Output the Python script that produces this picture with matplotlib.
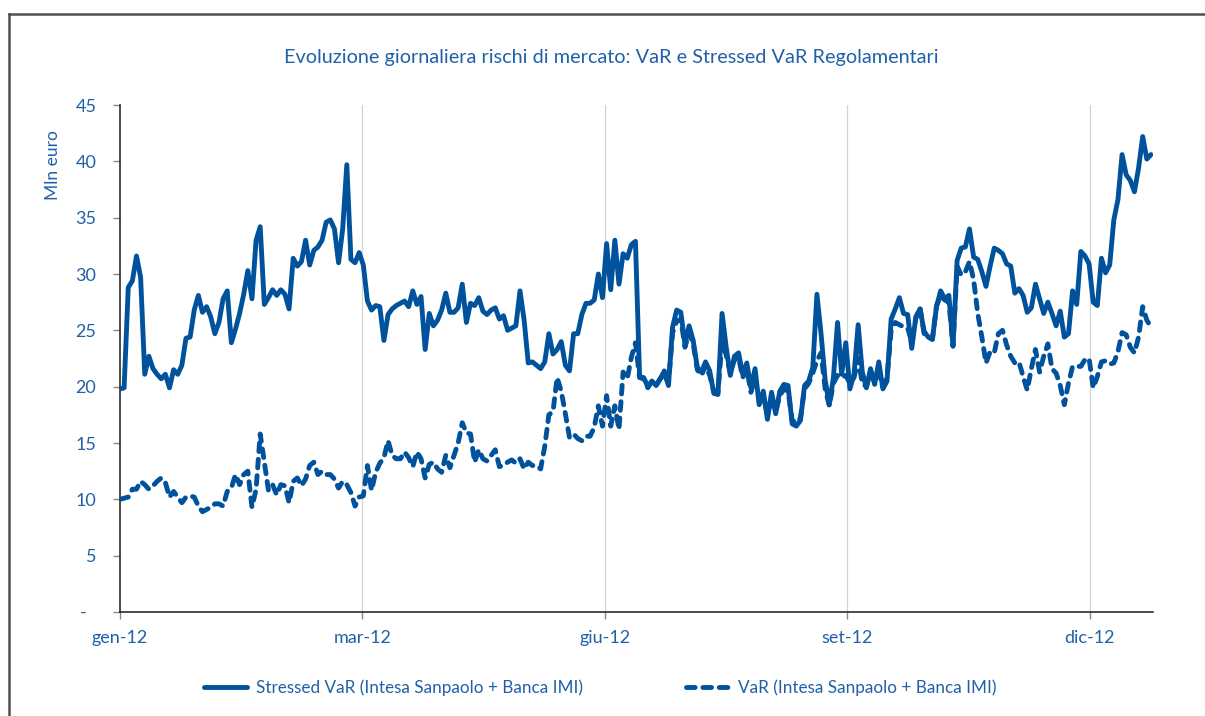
import matplotlib
matplotlib.use("Agg")
import matplotlib.pyplot as plt
import numpy as np

# ---------------- data ----------------
stressed_var = [
    19.8, 19.9, 28.8, 29.4, 31.6, 29.7, 21.1, 22.7, 21.6, 21.1,
    20.7, 21.1, 19.9, 21.5, 21.1, 21.9, 24.3, 24.4, 26.8, 28.1,
    26.6, 27.1, 26.2, 24.7, 25.7, 27.8, 28.5, 23.9, 25.1, 26.5,
    28.2, 30.3, 27.8, 33.0, 34.2, 27.3, 27.9, 28.6, 28.1, 28.6,
    28.2, 26.9, 31.4, 30.7, 31.1, 33.0, 30.8, 32.1, 32.4, 33.0,
    34.6, 34.8, 34.0, 31.0, 34.0, 39.7, 31.3, 31.0, 31.9, 30.8,
    27.6, 26.8, 27.2, 27.1, 24.1, 26.4, 26.9, 27.2,
    27.4, 27.6, 27.1, 28.5, 27.3, 28.0, 23.3, 26.5, 25.4, 25.9,
    26.8, 28.3, 26.6, 26.6, 27.0, 29.1, 25.7, 27.4, 27.2, 27.9,
    26.7, 26.4, 26.8, 27.0, 26.0, 26.3, 25.0, 25.2, 25.4, 28.5,
    25.9, 22.1, 22.2, 21.9, 21.6, 22.2, 24.7, 22.9, 23.3, 24.0,
    21.9, 21.4, 24.7, 24.7, 26.4, 27.4, 27.4, 27.7, 30.0, 27.9,
    32.7, 28.6, 33.0, 29.1, 31.8, 31.4, 32.6, 32.9, 20.9, 20.8,
    20.0,
    20.5, 20.1, 20.7, 21.4, 20.1, 25.3, 26.8, 26.6, 23.8, 25.4,
    24.1, 21.7, 21.3, 22.2, 21.4, 19.4, 19.3, 26.5, 23.5, 21.0,
    22.7, 23.0, 21.1, 22.1, 19.9, 21.6, 18.4, 19.6, 17.1, 19.5,
    17.6, 19.6, 20.2, 20.1, 16.7, 16.5, 17.0, 20.1, 20.5, 21.7,
    28.2, 24.7, 20.6, 18.4, 20.8, 25.7, 21.1, 23.9, 19.8, 21.1,
    25.5, 21.3, 19.9, 21.6, 20.2, 22.2, 19.8, 20.5, 26.0, 26.9,
    27.9,
    26.5, 26.4, 23.4, 26.2, 26.9, 24.9, 24.4, 24.2, 27.1, 28.5,
    27.8, 28.1, 23.6, 31.2, 32.3, 32.4, 34.0, 31.5, 31.3, 30.2,
    28.9, 30.7, 32.3, 32.1, 31.8, 30.9, 30.7, 28.3, 28.7, 28.1,
    26.6, 27.0, 29.1, 27.8, 26.5, 27.5, 26.5, 25.4, 26.7, 24.4,
    24.7, 28.5, 27.3, 32.0, 31.6, 30.9, 27.5, 27.2, 31.4, 30.1,
    30.8, 34.8, 36.6, 40.6, 38.8, 38.3, 37.3, 39.4, 42.2, 40.2,
    40.6,
]

var = [
    10.0, 10.1, 10.2, 10.9, 10.9, 11.6, 11.3, 10.9, 11.2, 11.6,
    11.9, 11.5, 10.2, 10.7, 10.2, 9.7, 10.2, 10.3, 10.2, 9.4,
    8.9, 9.1, 9.3, 9.6, 9.6, 9.4, 10.7, 11.0, 12.2, 11.3,
    12.2, 12.5, 9.3, 10.9, 15.8, 13.3, 10.8, 11.3, 10.4, 11.3,
    11.2, 9.7, 11.6, 11.9, 11.2, 11.8, 13.0, 13.3, 12.2, 12.5,
    12.2, 12.2, 11.8, 11.0, 11.6, 11.3, 10.6, 9.4, 10.2, 10.3,
    13.0, 10.8, 12.4, 13.2, 13.7, 15.2, 13.9, 13.6,
    13.6, 14.2, 13.7, 12.9, 14.2, 13.6, 11.9, 13.1, 13.3, 12.7,
    12.4, 13.9, 12.8, 13.9, 15.0, 16.8, 15.9, 15.8, 13.3, 14.4,
    13.6, 13.4, 13.9, 14.4, 12.9, 13.0, 13.3, 13.5, 13.2, 13.6,
    12.7, 13.3, 13.0, 13.0, 12.7, 14.7, 17.5, 17.8, 20.8, 19.6,
    17.6, 15.5, 15.8, 15.4, 15.2, 15.6, 15.6, 16.4, 18.3, 16.5,
    19.2, 16.5, 18.3, 16.2, 21.3, 20.7, 22.6, 23.9, 20.8, 20.7,
    19.9,
    20.5, 20.1, 20.7, 21.0, 20.3, 24.8, 25.8, 26.0, 23.5, 24.8,
    23.8, 21.5, 21.0, 21.9, 21.0, 19.6, 19.5, 24.0, 22.8, 21.2,
    22.4, 22.6, 20.8, 21.6, 19.5, 20.8, 18.8, 19.2, 17.5, 19.0,
    17.8, 19.2, 19.8, 19.6, 17.0, 16.8, 17.2, 19.8, 20.3, 21.2,
    22.3, 23.0, 19.8, 18.3, 20.3, 21.0, 20.8, 21.0, 20.3, 20.8,
    22.5, 20.3, 20.0, 21.3, 20.5, 21.2, 20.0, 20.8, 25.0, 25.7,
    25.5,
    25.3, 25.2, 24.0, 26.1, 27.0, 24.7, 24.4, 24.2, 27.2, 28.0,
    27.7, 27.5, 23.6, 30.7, 29.9, 30.2, 31.1, 29.5, 26.5, 24.4,
    22.1, 23.1, 23.0, 24.7, 25.0, 23.7, 22.7, 22.1, 22.2, 20.9,
    19.7, 21.6, 23.3, 21.3, 22.7, 23.8, 21.6, 21.2, 20.1, 18.4,
    20.3, 21.8, 21.8, 21.8, 22.4, 22.5, 19.9, 20.9, 22.2, 22.3,
    22.0, 22.1, 23.1, 24.8, 24.6, 23.5, 23.0, 24.4, 27.1, 25.9,
    25.3,
]

month_labels = ["gen-12", "mar-12", "giu-12", "set-12", "dic-12"]
y_ticks = [0, 5, 10, 15, 20, 25, 30, 35, 40, 45]
y_tick_labels = ["-  ", "5", "10", "15", "20", "25", "30", "35", "40", "45"]
series_labels = ["Stressed VaR (Intesa Sanpaolo + Banca IMI)",
                 "VaR (Intesa Sanpaolo + Banca IMI)"]
title = "Evoluzione giornaliera rischi di mercato: VaR e Stressed VaR Regolamentari"
y_label = "Mln euro"

# ---------------- style ----------------
plt.rcParams['font.family'] = ['Lato', 'DejaVu Sans']
plt.rcParams['lines.scale_dashes'] = False

LINE = "#00529C"
TEXT = "#2160A8"
W, H = 1205, 716

fig = plt.figure(figsize=(W / 100, H / 100), dpi=100)
fig.patch.set_facecolor("white")

# outer frame (top and left edges visible)
fig.add_artist(plt.Line2D([9 / W, 1.0], [1 - 14 / H, 1 - 14 / H],
                          transform=fig.transFigure, color="#505050", lw=1.8))
fig.add_artist(plt.Line2D([9 / W, 9 / W], [0, 1 - 14 / H],
                          transform=fig.transFigure, color="#505050", lw=1.8))

ax = fig.add_axes([120 / W, 1 - 612 / H, (1153 - 120) / W, (612 - 105) / H])

x = np.arange(len(stressed_var))
tick_step = 58.8
xticks = np.arange(len(month_labels)) * tick_step

ax.plot(x, stressed_var, color=LINE, lw=3.5, solid_capstyle="round",
        solid_joinstyle="round", label=series_labels[0], zorder=3)
ax.plot(x, var, color=LINE, lw=3.5, linestyle=(0, (6.2, 5.6)),
        dash_capstyle="round", dash_joinstyle="round",
        label=series_labels[1], zorder=4)

ax.set_xlim(0, 250.5)
ax.set_ylim(0, 45)
ax.set_yticks(y_ticks)
ax.set_yticklabels(y_tick_labels)
ax.set_xticks(xticks)
ax.set_xticklabels(month_labels)

for xt in xticks[1:]:
    ax.axvline(xt, color="#d4d4d4", lw=0.9, zorder=1)

for s in ["top", "right"]:
    ax.spines[s].set_visible(False)
for s in ["left", "bottom"]:
    ax.spines[s].set_color("#1a1a1a")
    ax.spines[s].set_linewidth(1.1)

ax.tick_params(axis="y", direction="out", length=5, width=1, color="#8a8a8a",
               labelcolor=TEXT, labelsize=13, pad=12)
ax.tick_params(axis="x", direction="out", length=5, width=1, color="#8a8a8a",
               labelcolor=TEXT, labelsize=13, pad=8)

ax.set_ylabel(y_label, color=TEXT, fontsize=12.5)
ax.yaxis.set_label_coords(-0.057, 0.882)

fig.text(611 / W, 1 - 58 / H, title, color=TEXT, fontsize=14.3,
         ha="center", va="center")

leg = fig.legend(loc="center", bbox_to_anchor=(600 / W, 1 - 688 / H),
                 ncol=2, frameon=False, fontsize=12.3, handlelength=2.5,
                 handletextpad=0.55, columnspacing=6.0)
for t in leg.get_texts():
    t.set_color(TEXT)

fig.savefig("out.png", dpi=100, facecolor="white")
